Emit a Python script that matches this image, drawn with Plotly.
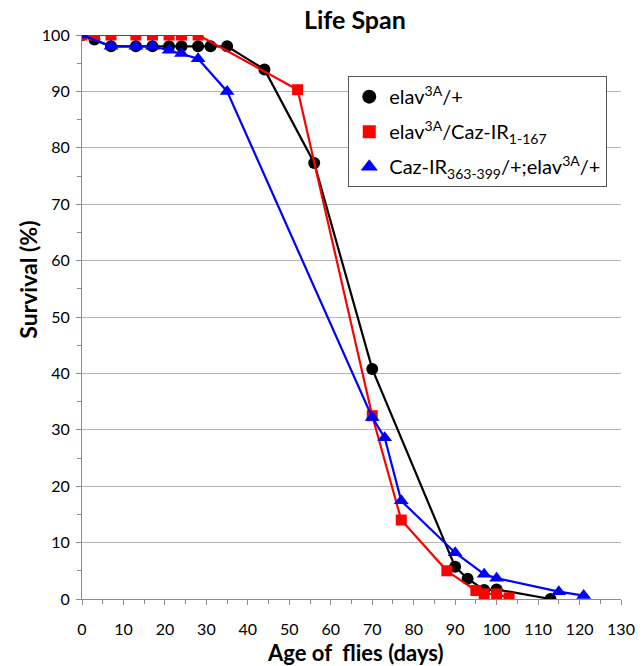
import plotly.graph_objects as go

# Data
days_black = [0, 3, 7, 13, 17, 21, 24, 28, 31, 35, 44, 56, 70, 90, 93, 97, 100, 113]
surv_black = [100, 99.2, 98, 98, 98, 98, 98, 98, 98, 98, 93.9, 77.3, 40.8, 5.7, 3.6, 1.6, 1.7, 0]

days_red = [0, 3, 7, 13, 17, 21, 24, 28, 52, 70, 77, 88, 95, 97, 100, 103]
surv_red = [100, 100, 100, 100, 100, 100, 100, 100, 90.3, 32.5, 14, 5.0, 1.5, 0.9, 0.9, 0.2]

days_blue = [0, 7, 13, 17, 21, 24, 28, 35, 70, 73, 77, 90, 97, 100, 115, 121]
surv_blue = [100, 98, 98, 98, 97.3, 96.7, 95.8, 90, 32.2, 28.6, 17.4, 8.2, 4.4, 3.7, 1.3, 0.6]

names = [
    "elav<sup>3A</sup>/+",
    "elav<sup>3A</sup>/Caz-IR<sub>1-167</sub>",
    "Caz-IR<sub>363-399</sub>/+;elav<sup>3A</sup>/+",
]
colors = ["black", "#ff0000", "#0000ff"]
symbols = ["circle", "square", "triangle-up"]
sizes = [12, 11, 13]

FONT = "Lato, 'Open Sans', sans-serif"

fig = go.Figure()
series = [(days_black, surv_black), (days_red, surv_red), (days_blue, surv_blue)]
for i, (xs, ys) in enumerate(series):
    fig.add_trace(go.Scatter(x=xs, y=ys, mode="lines+markers", name=names[i], showlegend=False,
                             line=dict(color=colors[i], width=2.2),
                             marker=dict(symbol=symbols[i], size=sizes[i], color=colors[i])))
# legend entries (markers only, as in the reference)
for i in range(3):
    fig.add_trace(go.Scatter(x=[None], y=[None], mode="markers", name=names[i],
                             legendgroup=f"g{i}",
                             marker=dict(symbol=symbols[i], size=sizes[i] + 2, color=colors[i])))

fig.update_layout(
    width=635, height=658, autosize=False,
    margin=dict(l=74, r=22, t=27, b=67, autoexpand=False),
    paper_bgcolor="white", plot_bgcolor="white",
    font=dict(family=FONT, color="black"),
    showlegend=True,
    legend=dict(x=0.494, y=0.927, xanchor="left", yanchor="top",
                bordercolor="#555555", borderwidth=1, bgcolor="white",
                font=dict(size=20, family=FONT, color="black"),
                tracegroupgap=6, itemwidth=30),
    annotations=[
        dict(text="<b>Life Span</b>", xref="paper", yref="paper", x=0.5065, y=1.0,
             xanchor="center", yanchor="bottom", showarrow=False, yshift=-1,
             font=dict(size=25, family=FONT, color="black")),
        dict(text="<b>Age of  flies (days)</b>", xref="paper", yref="paper", x=0.5065, y=-0.0957,
             xanchor="center", yanchor="middle", showarrow=False,
             font=dict(size=22, family=FONT, color="black")),
        dict(text="<b>Survival (%)</b>", xref="paper", yref="paper", x=-0.1002, y=0.566,
             xanchor="center", yanchor="middle", showarrow=False, textangle=-90,
             font=dict(size=23, family=FONT, color="black")),
    ],
)
fig.update_xaxes(range=[0, 130], tickvals=list(range(0, 131, 10)), showgrid=False,
                 showline=True, linecolor="#8c8c8c", linewidth=1.2,
                 ticks="outside", ticklen=5, tickcolor="#8c8c8c",
                 minor=dict(dtick=5, ticks="outside", ticklen=4, tickcolor="#8c8c8c"),
                 tickfont=dict(size=16, family=FONT, color="black"),
                 ticklabelstandoff=11, automargin=False,
                 zeroline=False)
fig.update_yaxes(range=[0, 100], tickvals=list(range(0, 101, 10)), showgrid=True,
                 gridcolor="#b5b5b5", gridwidth=1.2,
                 showline=True, linecolor="#8c8c8c", linewidth=1.2,
                 ticks="outside", ticklen=5, tickcolor="#8c8c8c",
                 minor=dict(dtick=5, ticks="outside", ticklen=4, tickcolor="#8c8c8c", showgrid=False),
                 tickfont=dict(size=16, family=FONT, color="black"),
                 ticklabelstandoff=3, automargin=False,
                 zeroline=False)

fig.write_html("out.html")
